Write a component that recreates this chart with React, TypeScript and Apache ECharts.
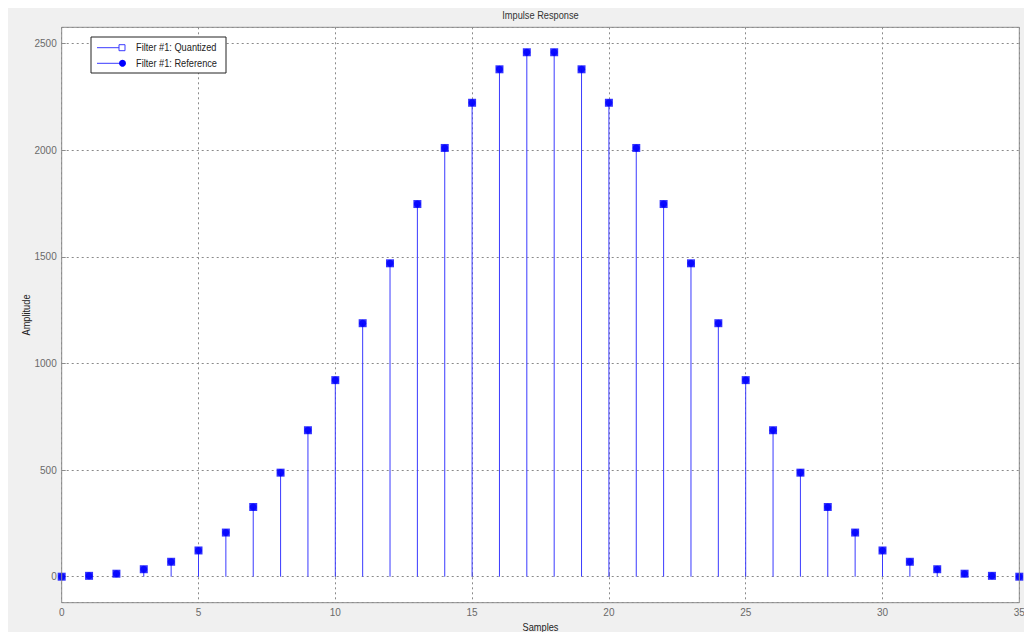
import React, { useEffect, useRef } from "react";
import * as echarts from "echarts";

const samples = [0, 1, 2, 3, 4, 5, 6, 7, 8, 9, 10, 11, 12, 13, 14, 15, 16, 17, 18, 19, 20, 21, 22, 23, 24, 25, 26, 27, 28, 29, 30, 31, 32, 33, 34, 35];
const quantized = [0, 4, 14, 35, 70, 123, 207, 327, 488, 687, 922, 1189, 1470, 1748, 2011, 2223, 2380, 2460, 2460, 2380, 2223, 2011, 1748, 1470, 1189, 922, 687, 488, 327, 207, 123, 70, 35, 14, 4, 0];
const reference = [0, 4, 14, 35, 70, 123, 207, 327, 488, 687, 922, 1189, 1470, 1748, 2011, 2223, 2380, 2460, 2460, 2380, 2223, 2011, 1748, 1470, 1189, 922, 687, 488, 327, 207, 123, 70, 35, 14, 4, 0];
const yTicks = [0, 500, 1000, 1500, 2000, 2500];
const legendNames = ["Filter #1: Quantized", "Filter #1: Reference"];
const titleText = "Impulse Response";
const xName = "Samples";
const yName = "Amplitude";

const FONT = "'Liberation Sans', Arial, sans-serif";
const SX = 0.84;

export default function App() {
  const ref = useRef<HTMLDivElement>(null);
  useEffect(() => {
    if (!ref.current) return;
    const chart = echarts.init(ref.current, undefined, { renderer: "svg" });
    const G = { left: 55.7, top: 20.3, width: 957.6, height: 575.4 };
    const stemData = samples.map((s, i) => [s, reference[i]]);
    const txt = (text: string, x: number, y: number, align: string, color: string, extra: any = {}) => ({
      type: "text",
      z: 61,
      x,
      y,
      scaleX: SX,
      ...extra,
      style: { text, fill: color, font: `11px ${FONT}`, textAlign: align, textVerticalAlign: "middle" },
    });
    chart.setOption({
      animation: false,
      backgroundColor: "#f0f0f0",
      grid: { ...G, show: true, backgroundColor: "#ffffff", borderWidth: 0 },
      xAxis: {
        type: "value",
        min: 0,
        max: 35,
        interval: 5,
        axisLine: { show: false },
        axisTick: { show: true, inside: true, length: 4, lineStyle: { color: "#8c8c8c" } },
        axisLabel: { color: "#6a6a6a", fontSize: 10, fontFamily: FONT, margin: 5 },
        splitLine: { show: true, lineStyle: { color: "#8a8a8a", type: [2, 3], width: 1 } },
      },
      yAxis: {
        type: "value",
        min: -122,
        max: 2577,
        splitNumber: 5,
        axisLine: { show: false },
        axisTick: { show: true, inside: true, length: 4, lineStyle: { color: "#8c8c8c" } },
        axisLabel: {
          color: "#6a6a6a",
          fontSize: 10,
          fontFamily: FONT,
          margin: 5,
          showMinLabel: false,
          showMaxLabel: false,
          formatter: (v: number) => (yTicks.indexOf(v) >= 0 ? String(v) : ""),
        },
        splitLine: { show: true, lineStyle: { color: "#8a8a8a", type: [2, 3], width: 1 } },
      },
      series: [
        {
          type: "custom",
          name: "stems",
          data: stemData,
          renderItem: (params: any, api: any) => {
            const b = api.coord([api.value(0), 0]);
            const t = api.coord([api.value(0), api.value(1)]);
            return {
              type: "line",
              shape: { x1: b[0], y1: b[1], x2: t[0], y2: t[1] },
              style: { stroke: "#3a3aff", lineWidth: 1 },
            };
          },
          z: 3,
        },
        {
          type: "scatter",
          name: legendNames[1],
          data: samples.map((s, i) => [s, reference[i]]),
          symbol: "circle",
          symbolSize: 7,
          itemStyle: { color: "#0000ff" },
          z: 4,
        },
        {
          type: "scatter",
          name: legendNames[0],
          data: samples.map((s, i) => [s, quantized[i]]),
          symbol: "rect",
          symbolSize: 8,
          itemStyle: { color: "#0000ff" },
          z: 5,
        },
      ],
      graphic: [
        {
          type: "rect",
          silent: true,
          z: 50,
          shape: { x: G.left, y: G.top, width: G.width, height: G.height },
          style: { fill: "none", stroke: "#8c8c8c", lineWidth: 1 },
        },
        txt(titleText, G.left + G.width / 2, 8, "center", "#333333"),
        txt(xName, G.left + G.width / 2, 620, "center", "#222222"),
        txt(yName, 20, G.top + G.height / 2, "center", "#222222", { rotation: Math.PI / 2 }),
        {
          type: "rect",
          z: 60,
          shape: { x: 85, y: 30, width: 135, height: 36 },
          style: { fill: "#ffffff", stroke: "#222222", lineWidth: 1 },
        },
        {
          type: "line",
          z: 61,
          shape: { x1: 91, y1: 40.7, x2: 113, y2: 40.7 },
          style: { stroke: "#3a3aff", lineWidth: 1 },
        },
        {
          type: "rect",
          z: 61,
          shape: { x: 113, y: 37.7, width: 6, height: 6 },
          style: { fill: "#ffffff", stroke: "#3a3aff", lineWidth: 1 },
        },
        txt(legendNames[0], 130, 40.7, "left", "#222222"),
        {
          type: "line",
          z: 61,
          shape: { x1: 91, y1: 56.3, x2: 116, y2: 56.3 },
          style: { stroke: "#3a3aff", lineWidth: 1 },
        },
        {
          type: "circle",
          z: 61,
          shape: { cx: 116.5, cy: 56.3, r: 3.5 },
          style: { fill: "#0000ff", stroke: "none" },
        },
        txt(legendNames[1], 130, 56.3, "left", "#222222"),
      ],
    });
    return () => chart.dispose();
  }, []);
  return (
    <div
      ref={ref}
      style={{ width: 1028, height: 625, marginLeft: -2, marginTop: -1 }}
    />
  );
}
